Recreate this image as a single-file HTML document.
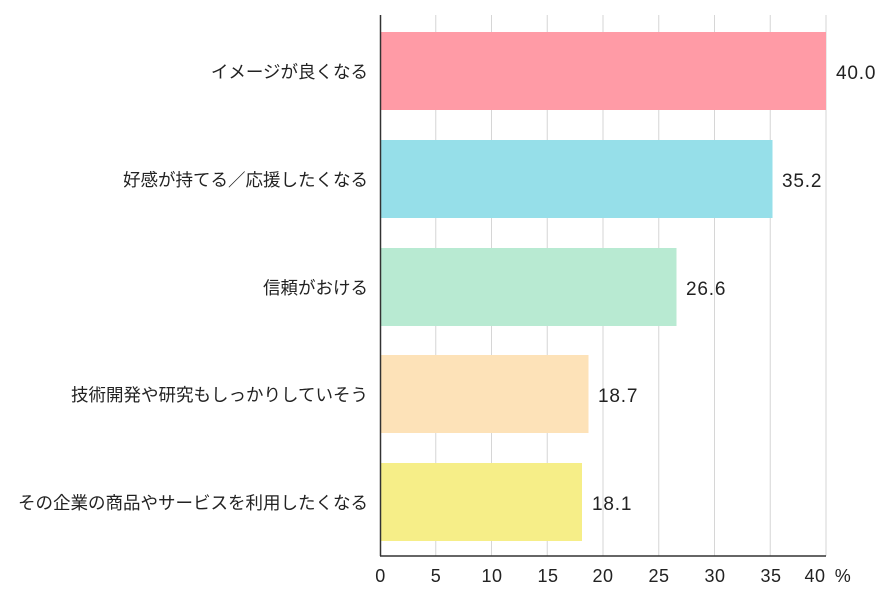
<!DOCTYPE html>
<html><head><meta charset="utf-8"><style>
html,body{margin:0;padding:0;background:#fff;}
svg{display:block;font-family:"Liberation Sans","Noto Sans CJK JP",sans-serif;}
</style></head><body>
<svg width="894" height="608" viewBox="0 0 894 608" xmlns="http://www.w3.org/2000/svg">
<g stroke="#d6d6d6" stroke-width="1">
<line x1="435.75" y1="15" x2="435.75" y2="556"/>
<line x1="491.5" y1="15" x2="491.5" y2="556"/>
<line x1="547.25" y1="15" x2="547.25" y2="556"/>
<line x1="603" y1="15" x2="603" y2="556"/>
<line x1="658.75" y1="15" x2="658.75" y2="556"/>
<line x1="714.5" y1="15" x2="714.5" y2="556"/>
<line x1="770.25" y1="15" x2="770.25" y2="556"/>
<line x1="826" y1="15" x2="826" y2="556"/>
</g>
<rect x="380.5" y="32" width="445.5" height="78" fill="#ff9ba6"/>
<rect x="380.5" y="140" width="392" height="78" fill="#96dfe9"/>
<rect x="380.5" y="248" width="296" height="78" fill="#b8ead2"/>
<rect x="380.5" y="355" width="208" height="78" fill="#fde2b8"/>
<rect x="380.5" y="463" width="201.5" height="78" fill="#f6ee88"/>
<line x1="380.5" y1="15" x2="380.5" y2="556" stroke="#333" stroke-width="1.5"/>
<line x1="380" y1="556" x2="826" y2="556" stroke="#333" stroke-width="1.5"/>
<g font-size="19" fill="#222" text-anchor="start" letter-spacing="0.8">
<text x="836" y="79">40.0</text>
<text x="782" y="187">35.2</text>
<text x="686" y="295">26.6</text>
<text x="598" y="402">18.7</text>
<text x="592" y="510">18.1</text>
</g>
<g font-size="17.5" fill="#222" text-anchor="end">
<text x="368" y="78">イメージが良くなる</text>
<text x="368" y="186">好感が持てる／応援したくなる</text>
<text x="368" y="294">信頼がおける</text>
<text x="368" y="401">技術開発や研究もしっかりしていそう</text>
<text x="368" y="509">その企業の商品やサービスを利用したくなる</text>
</g>
<g font-size="18" fill="#222" text-anchor="middle" letter-spacing="0.5">
<text x="380.5" y="582">0</text>
<text x="436" y="582">5</text>
<text x="492" y="582">10</text>
<text x="548" y="582">15</text>
<text x="603" y="582">20</text>
<text x="659" y="582">25</text>
<text x="715" y="582">30</text>
<text x="771" y="582">35</text>
<text x="815" y="582">40</text>
<text x="843" y="582">%</text>
</g>
</svg>
</body></html>
